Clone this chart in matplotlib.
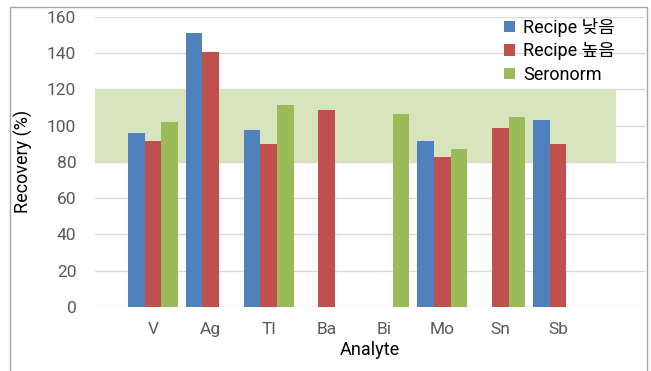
import matplotlib.pyplot as plt
import matplotlib.patches as mpatches
import numpy as np

plt.rcParams['font.family'] = ['Roboto', 'Noto Sans CJK KR', 'DejaVu Sans']

analytes = ['V', 'Ag', 'Tl', 'Ba', 'Bi', 'Mo', 'Sn', 'Sb']
recipe_low = [96.0, 151.1, 97.4, np.nan, np.nan, 91.3, np.nan, 102.9]
recipe_high = [91.3, 140.3, 90.0, 108.4, np.nan, 82.6, 98.5, 89.6]
seronorm = [101.8, np.nan, 111.3, np.nan, 106.5, 86.9, 104.9, np.nan]
series_names = ['Recipe 낮음', 'Recipe 높음', 'Seronorm']
series_colors = ['#4F81BD', '#C0504D', '#9BBB59']
band_low, band_high = 80, 120

fig = plt.figure(figsize=(6.51, 3.71), dpi=100)
ax = fig.add_axes([95 / 651, 1 - 307 / 371, 550 / 651, (307 - 16.6) / 371])

x = np.arange(len(analytes))
w = 0.287
# acceptance band 80-120 %
ax.axhspan(band_low, band_high, xmin=0, xmax=9 / 9.5, color='#D7E4BD', zorder=1, lw=0)
for i, (vals, name, col) in enumerate(zip([recipe_low, recipe_high, seronorm], series_names, series_colors)):
    ax.bar(x + (i - 1) * w, vals, width=w, color=col, label=name, zorder=2, lw=0)

ax.set_xlim(-1, 8.5)
ax.set_ylim(0, 160)
ax.set_yticks(np.arange(0, 161, 20))
ax.set_xticks(x)
ax.set_xticklabels(analytes)
ax.yaxis.grid(True, color='#D9D9D9', lw=1, zorder=0)
ax.set_axisbelow(True)
for s in ax.spines.values():
    s.set_visible(False)
ax.tick_params(length=0, labelsize=12.5, labelcolor='#595959')
ax.tick_params(axis='y', pad=13.5)
ax.tick_params(axis='x', pad=11)
ax.set_xlabel('Analyte', fontsize=13, labelpad=3)
ax.set_ylabel('Recovery (%)', fontsize=13)
ax.yaxis.set_label_coords((33 - 95) / 550, 0.5)

ax.legend(loc='upper left', bbox_to_anchor=(495 / 651, 1 - 9 / 371), bbox_transform=fig.transFigure,
          frameon=False, fontsize=13, handlelength=0.6, handleheight=0.6, handletextpad=0.45,
          labelspacing=0.3, borderpad=0)

fig.patches.append(mpatches.Rectangle((10 / 651, -0.05), 637 / 651, 1.05 - 7 / 371, transform=fig.transFigure,
                                      fill=False, edgecolor='#A6A6A6', lw=1))

fig.savefig('out.png', dpi=100)
